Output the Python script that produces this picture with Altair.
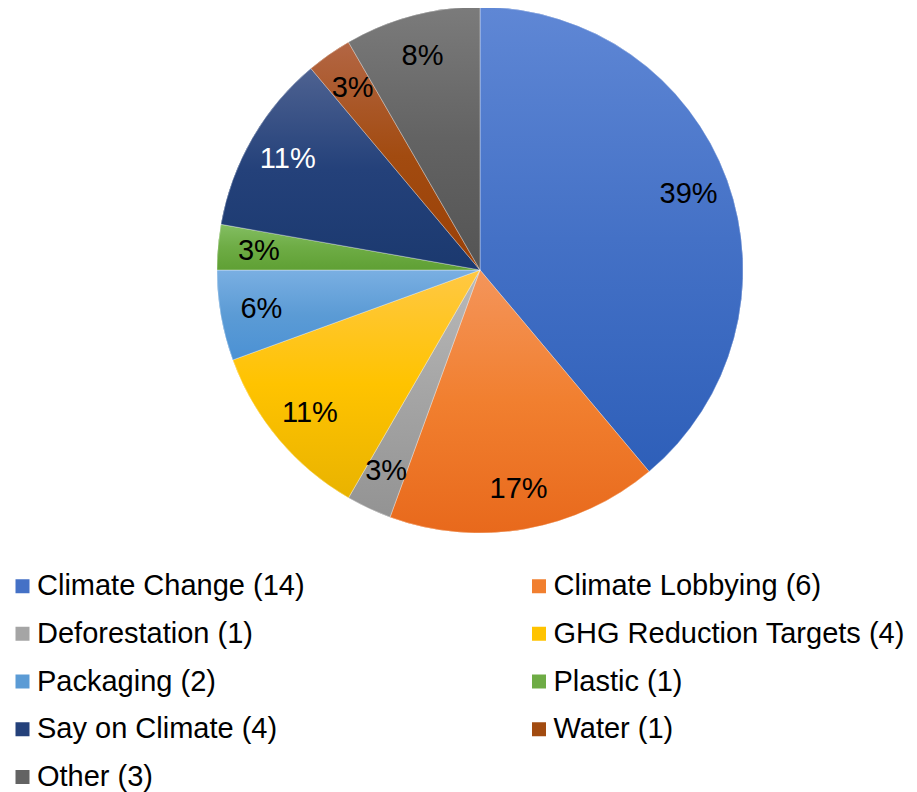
import altair as alt
import pandas as pd

categories = ["Climate Change", "Climate Lobbying", "Deforestation", "GHG Reduction Targets",
              "Packaging", "Plastic", "Say on Climate", "Water", "Other"]
counts = [14, 6, 1, 4, 2, 1, 4, 1, 3]
legend_labels = [f"{c} ({n})" for c, n in zip(categories, counts)]

colors_top = ["#5F87D5", "#F4955B", "#B9B9B9", "#FFC844", "#7AAFE2", "#83BE62", "#4E6291", "#B36644", "#7B7B7B"]
colors_mid = ["#4471C6", "#F17F2F", "#A5A5A5", "#FFC300", "#5B9BD5", "#6EAC45", "#24417A", "#A24B10", "#636363"]
colors_bot = ["#2E5FB9", "#E8691C", "#939393", "#E9B300", "#4B91D4", "#5FA034", "#1B396F", "#9A4007", "#545454"]
label_colors = ["black", "black", "black", "black", "black", "black", "white", "black", "black"]

df = pd.DataFrame({
    "category": categories,
    "count": counts,
    "legend": legend_labels,
    "idx": list(range(len(categories))),
    "tcolor": label_colors,
})


def grad(top, mid, bot):
    return {"gradient": "linear", "x1": 0, "y1": 0, "x2": 0, "y2": 1,
            "stops": [{"offset": 0, "color": top},
                      {"offset": 0.5, "color": mid},
                      {"offset": 1, "color": bot}]}


fill = alt.when(alt.datum.category == categories[0]).then(
    alt.value(grad(colors_top[0], colors_mid[0], colors_bot[0])))
for i in range(1, len(categories) - 1):
    fill = fill.when(alt.datum.category == categories[i]).then(
        alt.value(grad(colors_top[i], colors_mid[i], colors_bot[i])))
fill = fill.otherwise(alt.value(grad(colors_top[-1], colors_mid[-1], colors_bot[-1])))

CX, CY, R = 472, 262, 263
FONT = "Liberation Sans"

base = alt.Chart(df).transform_joinaggregate(total="sum(count)").transform_calculate(
    pct="format(datum.count / datum.total, '.0%')"
).encode(
    theta=alt.Theta("count:Q", stack=True),
    order=alt.Order("idx:Q", sort="ascending"),
)

legend_layer = base.mark_arc(x=CX, y=CY, outerRadius=R).encode(
    color=alt.Color(
        "legend:N",
        scale=alt.Scale(domain=legend_labels, range=colors_mid),
        legend=alt.Legend(
            title=None, orient="none", legendX=0, legendY=563.5,
            direction="horizontal", columns=2, columnPadding=219.5, rowPadding=17.75,
            symbolType="square", symbolSize=196, symbolStrokeWidth=0,
            labelFont=FONT, labelFontSize=29, labelColor="black",
            labelOffset=0, labelLimit=700, padding=0,
        ),
    )
)

grad_layer = base.mark_arc(x=CX, y=CY, outerRadius=R, stroke="#ffffff",
                           strokeWidth=0.5, strokeOpacity=0.7).encode(fill=fill)

text_layer = base.mark_text(x=CX, y=CY, radius=222, font=FONT, fontSize=29).encode(
    text="pct:N",
    color=alt.Color("tcolor:N", scale=None),
)

chart = alt.layer(legend_layer, grad_layer, text_layer).properties(
    width=900, height=784, autosize=alt.AutoSizeParams(type="none"), padding=0,
).configure_view(stroke=None)

chart.save("out.html", embed_options={"renderer": "svg", "actions": False})
